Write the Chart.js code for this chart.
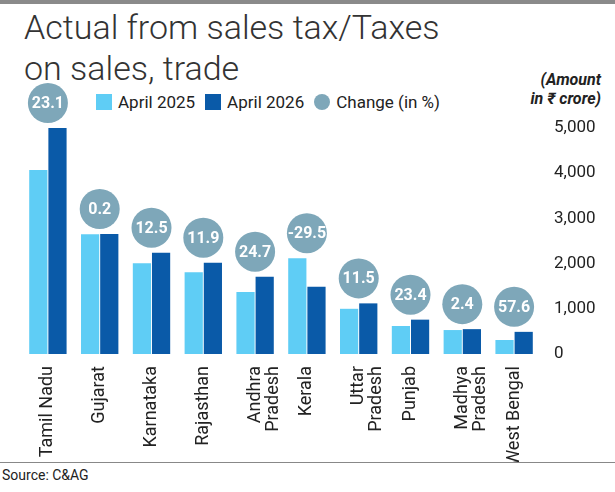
<!DOCTYPE html>
<html><head><meta charset="utf-8">
<script src="https://cdn.jsdelivr.net/npm/chart.js@4/dist/chart.umd.min.js"></script>
<style>
body{margin:0;background:#fff;font-family:"Roboto","Noto Sans",sans-serif;width:615px;height:492px;position:relative;overflow:hidden}
#bar{position:absolute;left:0;top:0;width:615px;height:4px;background:#8a8a8a}
#title{position:absolute;left:24px;top:7px;font-size:34px;line-height:41px;color:#333;font-weight:300}
#unit{position:absolute;right:14px;top:70px;font-size:16px;line-height:19px;font-style:italic;font-weight:bold;color:#222;text-align:right}
#legend{position:absolute;left:96px;top:92px;font-size:17px;color:#222;display:flex;gap:10px;align-items:center}
.sw{display:inline-block;width:16px;height:16px;margin-right:6px;vertical-align:-2px}
#src{position:absolute;left:0;top:462px;width:615px;border-top:1px solid #888;font-size:14px;padding:4px 0 0 2px;color:#222}
canvas{position:absolute;left:0;top:0}
</style></head><body>
<div id="bar"></div>
<div id="title">Actual from sales tax/Taxes<br>on sales, trade</div>
<div id="unit">(Amount<br>in ₹ crore)</div>
<div id="legend"><span><span class="sw" style="background:#5fcdf5"></span>April 2025</span><span><span class="sw" style="background:#0a5aa8"></span>April 2026</span><span><span class="sw" style="background:#7ea7b9;border-radius:50%"></span>Change (in %)</span></div>
<canvas id="c" width="615" height="462" style="width:615px;height:462px"></canvas>
<div id="src">Source: C&amp;AG</div>
<script>
const categories=[["Tamil Nadu"],["Gujarat"],["Karnataka"],["Rajasthan"],["Andhra","Pradesh"],["Kerala"],["Uttar","Pradesh"],["Punjab"],["Madhya","Pradesh"],["West Bengal"]];
const april2025=[4070,2650,2010,1810,1370,2120,1000,620,530,310];
const april2026=[5000,2655,2240,2020,1710,1490,1120,760,550,490];
const changePct=["23.1","0.2","12.5","11.9","24.7","-29.5","11.5","23.4","2.4","57.6"];
const yTicks=[0,1000,2000,3000,4000,5000];

const bubbles={id:'bubbles',afterDatasetsDraw(ch){
  const ctx=ch.ctx,x=ch.scales.x,y=ch.scales.y;
  ctx.save();
  categories.forEach((c,i)=>{
    const cx=x.getPixelForValue(i), cy=y.getPixelForValue(Math.max(april2025[i],april2026[i]))-25;
    ctx.beginPath();ctx.arc(cx,cy,20,0,Math.PI*2);ctx.fillStyle='#7ea7b9';ctx.fill();
    ctx.fillStyle='#fff';ctx.font='bold 16px Roboto';ctx.textAlign='center';ctx.textBaseline='middle';
    ctx.fillText(changePct[i],cx,cy+1);
  });
  ctx.restore();
}};
new Chart(document.getElementById('c'),{
  type:'bar',
  data:{labels:categories,datasets:[
    {label:'April 2025',data:april2025,backgroundColor:'#5fcdf5',categoryPercentage:0.74,barPercentage:0.95},
    {label:'April 2026',data:april2026,backgroundColor:'#0a5aa8',categoryPercentage:0.74,barPercentage:0.95}]},
  options:{responsive:false,animation:false,
    layout:{padding:{top:128,left:22,right:0,bottom:0}},
    plugins:{legend:{display:false},tooltip:{enabled:false}},
    scales:{
      x:{grid:{display:false},border:{display:false},
        ticks:{minRotation:90,maxRotation:90,color:'#222',font:{size:18,family:'Roboto',lineHeight:1.0},padding:4},
        afterFit(s){s.height=108;}},
      y:{position:'right',min:0,max:5000,grid:{display:false},border:{display:false},
        afterBuildTicks(s){s.ticks=yTicks.map(v=>({value:v}));},
        ticks:{color:'#222',font:{size:17,family:'Roboto'},padding:6,callback:v=>v.toLocaleString('en-US')},
        afterFit(s){s.width=75;}}
    }},
  plugins:[bubbles]
});
</script>
</body></html>
